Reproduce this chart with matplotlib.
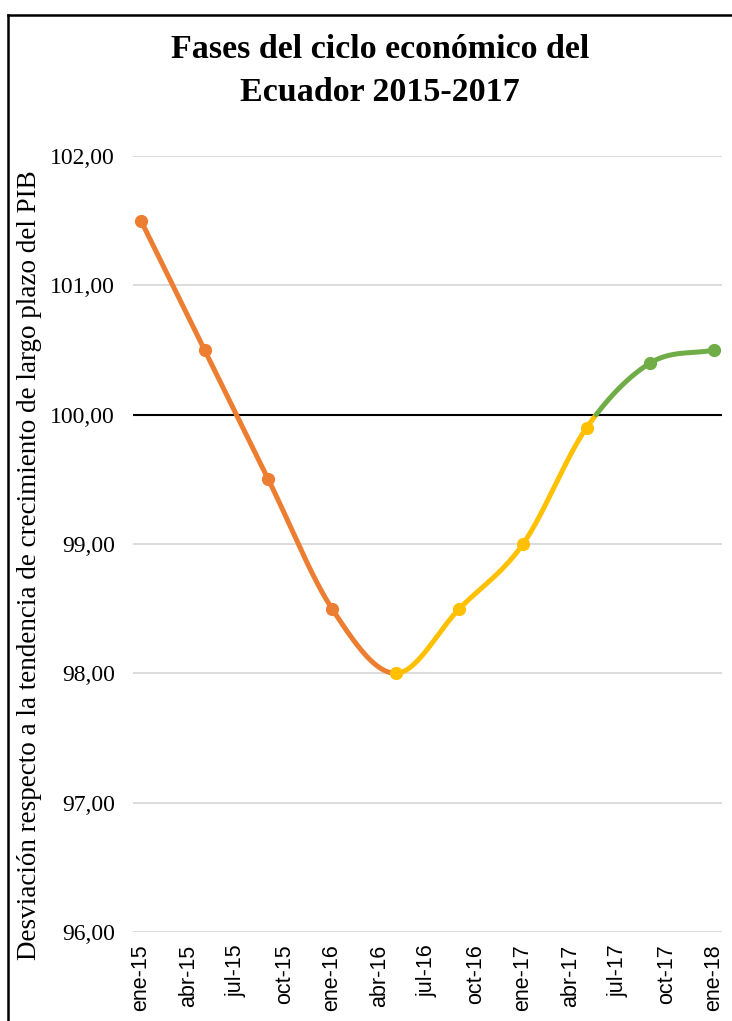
import numpy as np
import matplotlib
matplotlib.use("Agg")
import matplotlib.pyplot as plt
from matplotlib.lines import Line2D

# ---- data ----
tick_labels = ["ene-15", "abr-15", "jul-15", "oct-15", "ene-16", "abr-16", "jul-16",
               "oct-16", "ene-17", "abr-17", "jul-17", "oct-17", "ene-18"]
point_months = [0, 4, 8, 12, 16, 20, 24, 28, 32, 36]   # months since ene-15
values = [101.5, 100.5, 99.5, 98.5, 98.0, 98.5, 99.0, 99.9, 100.4, 100.5]
point_phase = ["o", "o", "o", "o", "y", "y", "y", "y", "g", "g"]
yticks = [96, 97, 98, 99, 100, 101, 102]
title = "Fases del ciclo económico del\nEcuador 2015-2017"
ylabel = "Desviación respecto a la tendencia de crecimiento de largo plazo del PIB"

colors = {"o": "#ED7D31", "y": "#FFC000", "g": "#70AD47"}

# ---- smooth curve (Catmull-Rom through the points) ----
def catmull_rom(xs, ys, n=60):
    xs = np.asarray(xs, float); ys = np.asarray(ys, float)
    P = np.column_stack([xs, ys])
    m = len(P)
    T = np.zeros_like(P)
    T[1:-1] = (P[2:] - P[:-2]) / 2.0
    T[0] = P[1] - P[0]
    T[-1] = P[-1] - P[-2]
    segs = []
    for i in range(m - 1):
        t = np.linspace(0, 1, n)[:, None]
        h00 = 2*t**3 - 3*t**2 + 1
        h10 = t**3 - 2*t**2 + t
        h01 = -2*t**3 + 3*t**2
        h11 = t**3 - t**2
        seg = h00*P[i] + h10*T[i] + h01*P[i+1] + h11*T[i+1]
        segs.append(seg)
    return segs

segs = catmull_rom(point_months, values)
orange = np.vstack(segs[:4])
rest = np.vstack(segs[4:])
# split rest at crossing of 100 (after the 99.9 point)
start_idx = 3 * 60
cross = None
for k in range(start_idx, len(rest) - 1):
    if rest[k, 1] < 100 <= rest[k + 1, 1]:
        cross = k
        break
f = (100 - rest[cross, 1]) / (rest[cross + 1, 1] - rest[cross, 1])
cp = rest[cross] + f * (rest[cross + 1] - rest[cross])
yellow = np.vstack([rest[:cross + 1], cp])
green = np.vstack([cp, rest[cross + 1:]])

# ---- figure ----
fig = plt.figure(figsize=(7.32, 10.21), dpi=100)
ax = fig.add_axes([133/732, 1 - 932/1021, (722 - 133)/732, (932 - 156)/1021])

for y in yticks:
    if y != 100:
        ax.axhline(y, color="#D9D9D9", lw=1.3, zorder=1)
ax.axhline(100, color="black", lw=1.5, zorder=2)

lw = 3.6
ax.plot(orange[:, 0], orange[:, 1], color=colors["o"], lw=lw, solid_capstyle="round", zorder=3)
ax.plot(yellow[:, 0], yellow[:, 1], color=colors["y"], lw=lw, solid_capstyle="butt", zorder=3)
ax.plot(green[:, 0], green[:, 1], color=colors["g"], lw=lw, solid_capstyle="round", zorder=3)
for xm, v, ph in zip(point_months, values, point_phase):
    ax.plot([xm], [v], "o", color=colors[ph], ms=8.5, zorder=4)

ax.set_xlim(-0.5, 36.5)
ax.set_ylim(96, 102)
ax.set_xticks(np.arange(0, 37, 3))
ax.set_xticklabels(tick_labels, rotation=90, family="Liberation Sans", fontsize=15.5)
ax.set_yticks(yticks)
ax.set_yticklabels([f"{v:.2f}".replace(".", ",") for v in yticks],
                   family="Liberation Serif", fontsize=17)
ax.tick_params(axis="x", length=0, pad=9)
ax.tick_params(axis="y", length=0, pad=13)
for s in ax.spines.values():
    s.set_visible(False)

fig.text(30/732, 1 - 565/1021, ylabel, rotation=90, ha="center", va="center",
         family="Liberation Serif", fontsize=19.5)
fig.text(380/732, 1 - 71/1021, title, ha="center", va="center",
         family="Liberation Serif", fontweight="bold", fontsize=24.5, linespacing=1.5)

# frame (cut off at right and bottom)
fig.add_artist(Line2D([8/732, 8/732], [-0.01, 1 - 15/1021], transform=fig.transFigure,
                      color="black", lw=1.8))
fig.add_artist(Line2D([8/732, 1.01], [1 - 15/1021, 1 - 15/1021], transform=fig.transFigure,
                      color="black", lw=1.8))

fig.savefig("out.png", dpi=100)
